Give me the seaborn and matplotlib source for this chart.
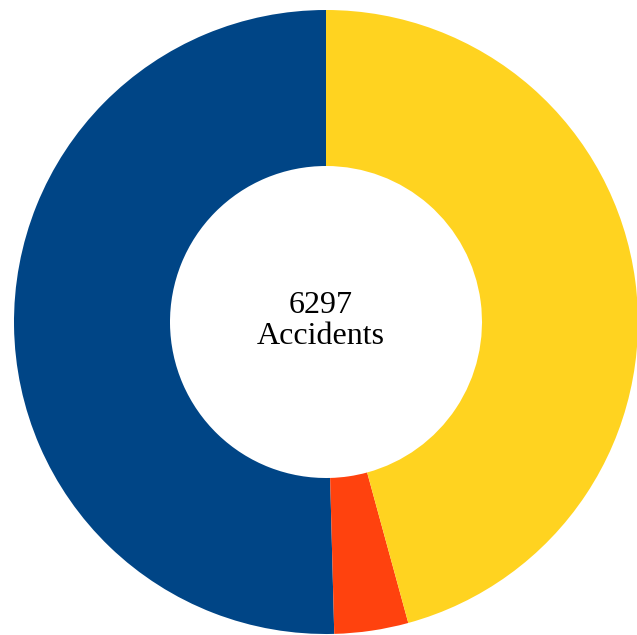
import matplotlib.pyplot as plt
import seaborn as sns

sns.set_theme(style="white")
plt.rcParams['font.family'] = ['Liberation Serif', 'DejaVu Serif']

# accident counts per category (counter-clockwise from the top)
categories = ['A', 'B', 'C']
counts = [3175, 241, 2881]
colors = ['#004586', '#ff420e', '#ffd320']
total = 6297

W, H = 637, 635
cx, cy, r = 326, 322, 312

fig = plt.figure(figsize=(W / 100, H / 100), dpi=100)
ax = fig.add_axes([0, 0, 1, 1])
ax.pie(counts, colors=colors, startangle=90, counterclock=True,
       radius=1, wedgeprops=dict(width=0.5, linewidth=0))
ax.set_xlim(-cx / r, (W - cx) / r)
ax.set_ylim(-(H - cy) / r, cy / r)
ax.set_aspect('auto')
ax.axis('off')

ax.text((321 - cx) / r, (cy - 321) / r, "{}\nAccidents".format(total),
        ha='center', va='center', fontsize=23, linespacing=1.1, color='black')

fig.savefig('out.png', dpi=100)
